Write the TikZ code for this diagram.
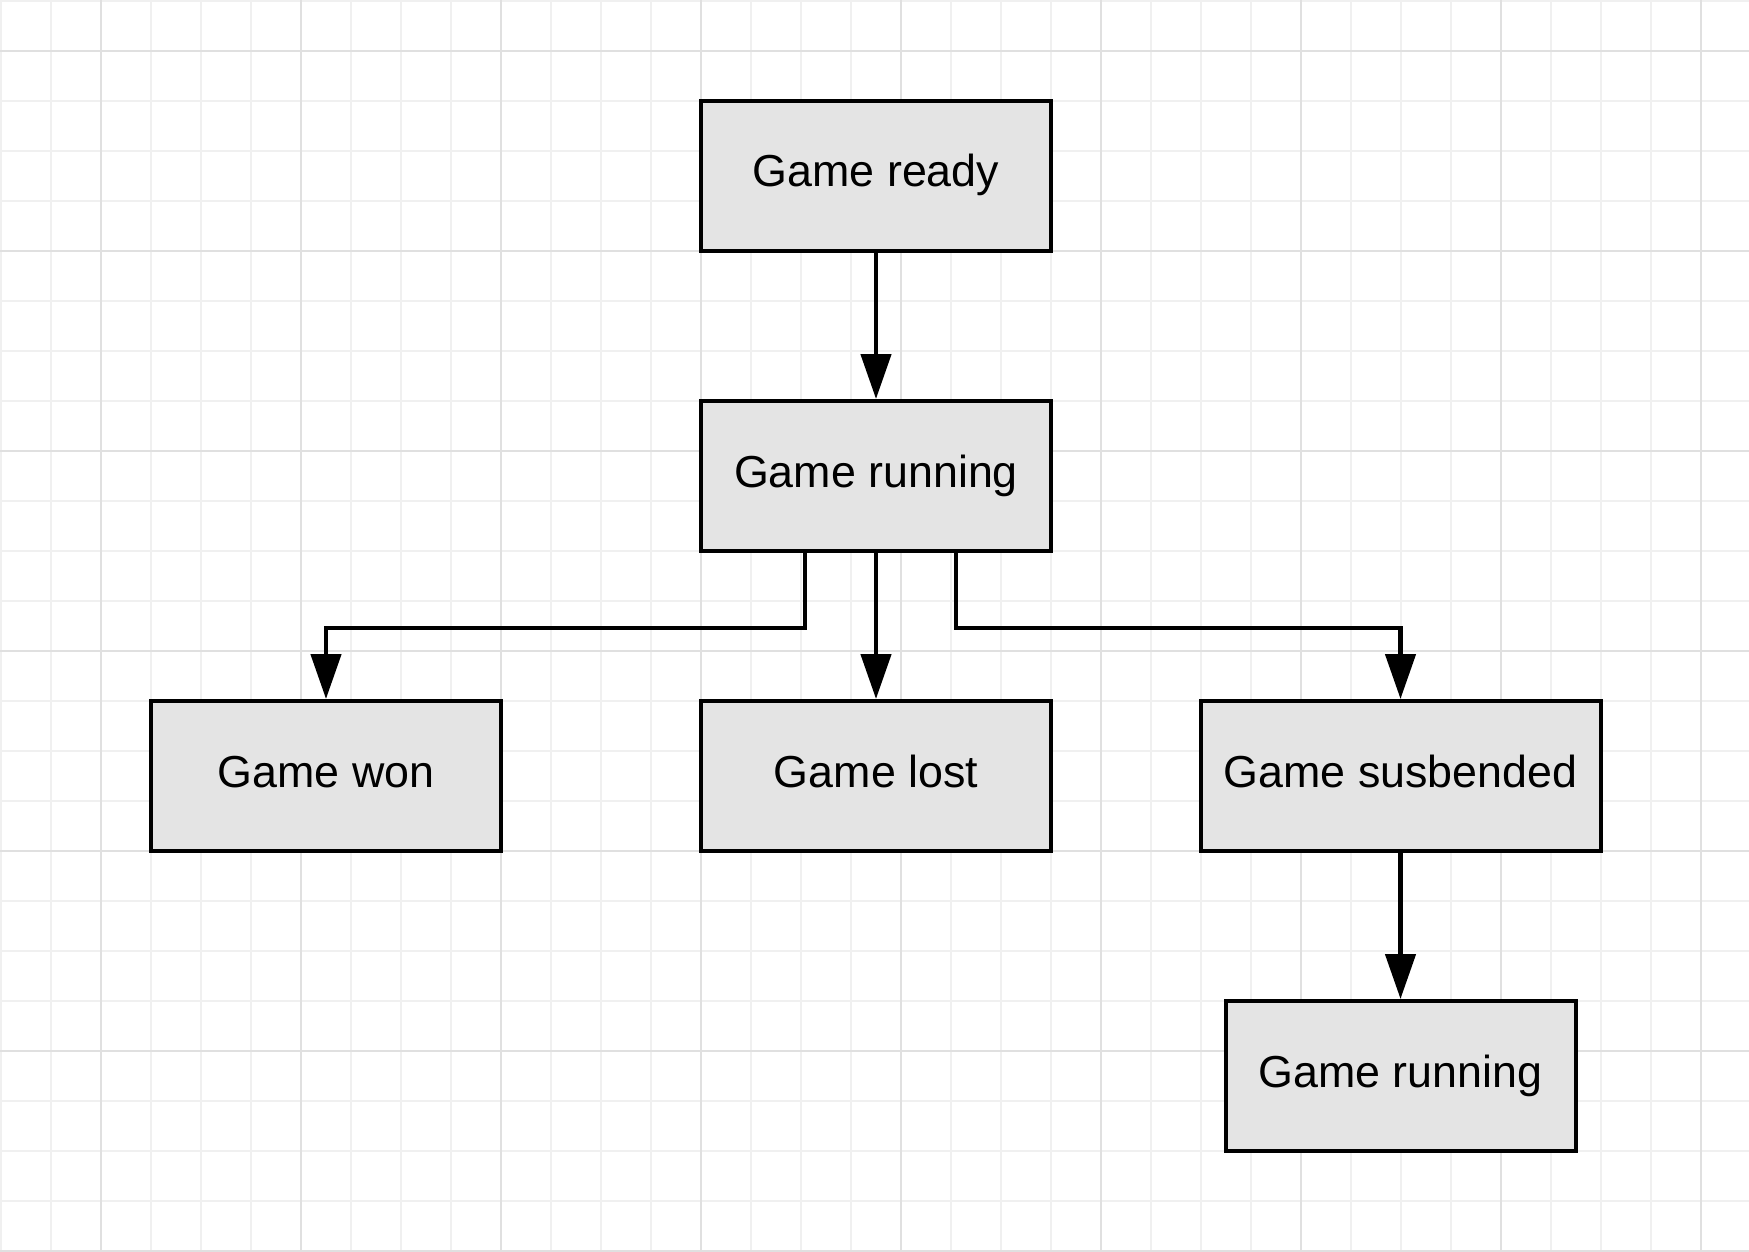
\documentclass[tikz,border=0pt]{standalone}
\usepackage{fontspec}
\setmainfont{Liberation Sans}
\usetikzlibrary{arrows.meta,calc}
\definecolor{boxfill}{HTML}{E4E4E4}
\definecolor{minorgrid}{HTML}{F0F0F0}
\definecolor{majorgrid}{HTML}{E0E0E0}
\tikzset{
  statebox/.style={draw=black, fill=boxfill, line width=4pt, minimum height=150pt,
    minimum width=350pt, inner sep=0pt, text height=22pt, text depth=0pt,
    font=\fontsize{44.8pt}{50pt}\selectfont},
  conn/.style={draw=black, line width=4.6pt, -{Triangle[length=45pt,width=30pt]}},
  gminor/.style={draw=minorgrid, line width=1.1pt},
  gmajor/.style={draw=majorgrid, line width=1.3pt}
}
\begin{document}
\begin{tikzpicture}[x=1pt,y=-1pt]
\useasboundingbox[fill=white] (0,0) rectangle (1749,1252);
% grid
\foreach \x in {1,51,...,1749} \draw[gminor] (\x,0) -- (\x,1252);
\foreach \y in {1,51,...,1252} \draw[gminor] (0,\y) -- (1749,\y);
\foreach \x in {101,301,...,1749} \draw[gmajor] (\x,0) -- (\x,1252);
\foreach \y in {51,251,...,1252} \draw[gmajor] (0,\y) -- (1749,\y);
% nodes
\node[statebox] (ready) at (876,176) {Game ready};
\node[statebox] (run) at (876,476) {Game running};
\node[statebox] (won) at (326,776) {Game won};
\node[statebox] (lost) at (876,776) {Game lost};
\node[statebox, minimum width=400pt] (sus) at (1400.5,776) {Game susbended};
\node[statebox] (run2) at (1400.5,1076) {Game running};
% connectors
\draw[conn] (ready.south) -- (run.north);
\draw[conn] (run.south) -- (lost.north);
\draw[conn] ([xshift=-71pt]run.south) -- ++(0,75) -| (won.north);
\draw[conn] ([xshift=80pt]run.south) -- ++(0,75) -| (sus.north);
\draw[conn] (sus.south) -- (run2.north);
\end{tikzpicture}
\end{document}
